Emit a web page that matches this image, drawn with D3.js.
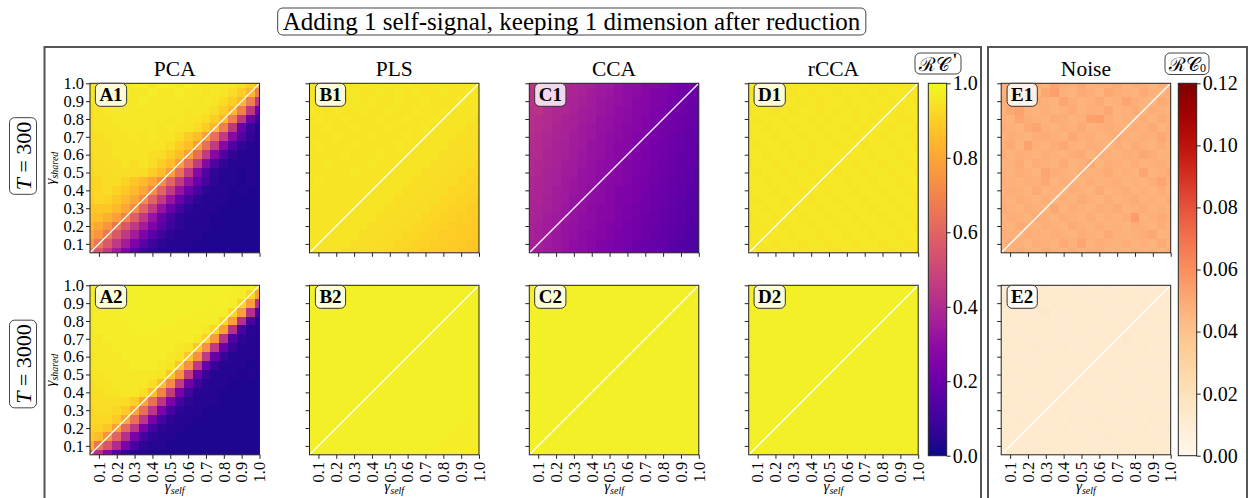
<!DOCTYPE html>
<html><head><meta charset="utf-8">
<script src="https://cdn.jsdelivr.net/npm/d3@7"></script>
<style>
body{margin:0;background:#fff}
svg{display:block}
text{font-family:"Liberation Serif","Times New Roman",serif;fill:#000}
</style>
</head><body><svg id="c" width="1253" height="498"></svg>
<script>
// ---------------- DATA ----------------
const gammaSelf = [0.05,0.10,0.15,0.20,0.25,0.30,0.35,0.40,0.45,0.50,0.55,0.60,0.65,0.70,0.75,0.80,0.85,0.90,0.95,1.00];
const gammaShared = [1.00,0.95,0.90,0.85,0.80,0.75,0.70,0.65,0.60,0.55,0.50,0.45,0.40,0.35,0.30,0.25,0.20,0.15,0.10,0.05]; // rows, top to bottom
const tickValues = [0.1,0.2,0.3,0.4,0.5,0.6,0.7,0.8,0.9,1.0];
const methods = ["PCA","PLS","CCA","rCCA","Noise"];
const rowT = ["300","3000"];
const panelIds = [["A1","B1","C1","D1","E1"],["A2","B2","C2","D2","E2"]];
const rcTicks = [0.0,0.2,0.4,0.6,0.8,1.0];
const noiseTicks = [0.00,0.02,0.04,0.06,0.08,0.10,0.12];
const titleText = "Adding 1 self-signal, keeping 1 dimension after reduction";

const A1 = [
[.95,.96,.96,.97,.96,.97,.97,.96,.97,.97,.96,.97,.96,.96,.96,.96,.95,.93,.90,.84],
[.95,.96,.96,.96,.97,.96,.96,.97,.96,.96,.97,.96,.96,.95,.96,.95,.93,.90,.84,.68],
[.95,.95,.96,.96,.96,.96,.97,.96,.96,.96,.96,.96,.95,.96,.95,.93,.90,.84,.68,.44],
[.94,.95,.96,.96,.96,.96,.96,.96,.96,.96,.96,.95,.96,.95,.93,.90,.84,.68,.44,.20],
[.94,.95,.95,.96,.96,.96,.96,.96,.96,.95,.96,.95,.95,.93,.90,.84,.68,.44,.20,.08],
[.94,.95,.95,.95,.96,.96,.96,.96,.95,.96,.95,.95,.93,.90,.84,.68,.44,.20,.08,.04],
[.93,.94,.95,.95,.95,.96,.95,.96,.95,.95,.93,.90,.86,.78,.64,.46,.28,.14,.07,.04],
[.93,.94,.94,.95,.95,.95,.95,.95,.95,.93,.90,.86,.78,.64,.46,.28,.14,.07,.04,.04],
[.92,.94,.94,.95,.95,.95,.95,.94,.93,.90,.86,.78,.64,.46,.28,.14,.07,.04,.04,.04],
[.92,.93,.94,.94,.95,.94,.95,.93,.90,.86,.78,.64,.46,.28,.14,.07,.04,.04,.04,.03],
[.92,.93,.93,.94,.94,.94,.93,.90,.86,.78,.64,.46,.28,.14,.07,.04,.04,.03,.04,.03],
[.91,.92,.93,.93,.91,.88,.85,.80,.72,.60,.46,.32,.20,.11,.06,.04,.04,.03,.04,.03],
[.91,.92,.93,.91,.88,.85,.80,.72,.60,.46,.32,.20,.11,.06,.04,.04,.03,.04,.03,.03],
[.90,.92,.91,.88,.85,.80,.72,.60,.46,.32,.20,.11,.06,.04,.04,.04,.03,.03,.03,.03],
[.88,.88,.88,.85,.80,.72,.60,.46,.32,.20,.11,.06,.04,.04,.04,.03,.03,.03,.03,.03],
[.87,.86,.83,.78,.70,.58,.45,.32,.20,.11,.06,.04,.04,.04,.03,.03,.03,.03,.03,.03],
[.84,.80,.75,.66,.56,.45,.35,.25,.16,.09,.06,.04,.04,.04,.03,.03,.03,.03,.03,.03],
[.80,.75,.66,.56,.45,.35,.25,.16,.09,.06,.04,.04,.04,.03,.03,.03,.03,.03,.03,.03],
[.75,.66,.56,.45,.35,.25,.16,.09,.06,.04,.04,.04,.03,.03,.03,.03,.03,.03,.03,.03],
[.66,.56,.45,.35,.25,.16,.09,.06,.04,.04,.04,.03,.03,.03,.03,.03,.03,.03,.03,.03]];

const A2 = [
[.97,.97,.98,.98,.98,.98,.98,.98,.98,.98,.98,.98,.98,.98,.98,.98,.98,.97,.97,.92],
[.97,.97,.97,.98,.98,.98,.98,.98,.98,.98,.98,.98,.98,.98,.98,.98,.97,.97,.92,.78],
[.97,.97,.97,.97,.98,.98,.98,.98,.98,.98,.98,.98,.98,.98,.97,.98,.97,.92,.78,.42],
[.96,.97,.97,.97,.98,.98,.98,.98,.98,.98,.98,.98,.97,.97,.97,.97,.92,.78,.42,.12],
[.96,.97,.97,.97,.97,.98,.98,.98,.98,.98,.97,.97,.97,.97,.97,.92,.78,.42,.12,.05],
[.96,.97,.97,.97,.97,.97,.98,.98,.97,.97,.97,.97,.97,.96,.92,.78,.42,.12,.05,.04],
[.96,.96,.97,.97,.97,.97,.97,.97,.97,.97,.97,.97,.96,.91,.77,.43,.14,.06,.04,.04],
[.96,.96,.96,.97,.97,.97,.97,.97,.97,.97,.96,.95,.88,.74,.45,.20,.08,.04,.04,.04],
[.95,.96,.96,.96,.97,.97,.97,.97,.97,.96,.95,.88,.74,.45,.20,.08,.04,.04,.04,.04],
[.95,.96,.96,.96,.96,.97,.97,.97,.96,.95,.88,.74,.45,.20,.08,.04,.04,.04,.03,.04],
[.95,.95,.96,.96,.96,.96,.96,.96,.95,.88,.74,.45,.20,.08,.04,.04,.04,.03,.04,.03],
[.94,.95,.95,.96,.96,.96,.96,.94,.87,.72,.46,.22,.09,.05,.04,.04,.03,.03,.03,.03],
[.94,.94,.95,.95,.96,.96,.94,.86,.70,.46,.24,.10,.05,.04,.04,.03,.03,.03,.03,.03],
[.93,.94,.94,.94,.93,.90,.80,.64,.44,.24,.11,.06,.04,.04,.04,.03,.03,.03,.03,.03],
[.92,.93,.93,.92,.89,.80,.64,.44,.24,.11,.06,.04,.04,.03,.03,.03,.03,.03,.03,.03],
[.92,.92,.92,.89,.80,.64,.44,.24,.11,.06,.04,.04,.03,.03,.03,.03,.03,.03,.03,.03],
[.91,.91,.88,.78,.62,.44,.24,.11,.06,.04,.04,.03,.03,.03,.03,.03,.03,.03,.03,.03],
[.89,.86,.74,.60,.42,.24,.11,.06,.04,.04,.03,.03,.03,.03,.03,.03,.03,.03,.03,.03],
[.82,.66,.55,.40,.24,.11,.06,.04,.04,.03,.03,.03,.03,.03,.03,.03,.03,.03,.03,.03],
[.60,.42,.28,.14,.07,.04,.04,.03,.03,.03,.03,.03,.03,.03,.03,.03,.03,.03,.03,.03]];

const B1 = [
[.95,.95,.96,.95,.96,.95,.96,.96,.95,.96,.95,.96,.95,.95,.96,.95,.95,.96,.95,.95],
[.95,.96,.95,.96,.95,.96,.95,.95,.96,.95,.96,.95,.96,.95,.95,.96,.95,.95,.96,.95],
[.95,.95,.96,.95,.95,.96,.95,.96,.95,.95,.96,.95,.95,.96,.95,.95,.95,.96,.95,.95],
[.96,.95,.95,.96,.95,.95,.96,.95,.95,.96,.95,.95,.96,.95,.95,.96,.95,.95,.95,.95],
[.95,.96,.95,.95,.96,.95,.95,.95,.96,.95,.95,.96,.95,.95,.96,.95,.95,.95,.95,.94],
[.95,.95,.96,.95,.95,.96,.95,.95,.95,.96,.95,.95,.95,.96,.95,.95,.95,.95,.94,.94],
[.95,.95,.95,.96,.95,.95,.95,.96,.95,.95,.95,.96,.95,.95,.95,.95,.95,.94,.94,.94],
[.95,.96,.95,.95,.95,.96,.95,.95,.95,.95,.96,.95,.95,.95,.95,.95,.94,.94,.94,.93],
[.95,.95,.95,.95,.96,.95,.95,.95,.96,.95,.95,.95,.95,.95,.95,.94,.94,.94,.93,.93],
[.95,.95,.96,.95,.95,.95,.95,.96,.95,.95,.95,.95,.95,.95,.94,.94,.94,.93,.93,.92],
[.95,.95,.95,.95,.95,.96,.95,.95,.95,.95,.95,.95,.95,.94,.94,.94,.93,.93,.92,.92],
[.95,.96,.95,.95,.95,.95,.95,.95,.95,.95,.95,.95,.94,.94,.94,.93,.93,.92,.92,.91],
[.95,.95,.95,.95,.95,.95,.95,.95,.95,.95,.95,.94,.94,.94,.93,.93,.92,.92,.91,.91],
[.95,.95,.95,.95,.95,.95,.95,.95,.95,.95,.94,.94,.94,.93,.93,.92,.92,.91,.91,.90],
[.95,.95,.95,.95,.95,.95,.95,.95,.95,.94,.94,.94,.93,.93,.92,.92,.91,.91,.90,.90],
[.95,.95,.95,.95,.95,.95,.95,.95,.94,.94,.94,.93,.93,.92,.92,.91,.91,.90,.90,.89],
[.95,.95,.95,.95,.95,.95,.95,.94,.94,.94,.93,.93,.92,.92,.91,.91,.90,.90,.89,.89],
[.95,.95,.95,.95,.95,.95,.94,.94,.94,.93,.93,.92,.92,.91,.91,.90,.90,.89,.89,.88],
[.95,.95,.95,.95,.95,.94,.94,.94,.93,.93,.92,.92,.91,.91,.90,.90,.89,.89,.88,.88],
[.95,.95,.95,.95,.94,.94,.94,.93,.93,.92,.92,.91,.91,.90,.90,.89,.89,.88,.88,.87]];

const C1 = [
[.44,.44,.42,.41,.40,.38,.37,.36,.34,.34,.32,.30,.30,.28,.27,.26,.24,.23,.22,.21],
[.43,.43,.42,.40,.39,.38,.37,.35,.34,.33,.31,.30,.29,.28,.26,.25,.24,.22,.21,.20],
[.43,.42,.41,.40,.38,.37,.36,.35,.33,.32,.31,.30,.28,.27,.26,.25,.23,.22,.21,.20],
[.42,.43,.40,.39,.39,.37,.35,.34,.33,.32,.30,.29,.28,.27,.25,.24,.23,.22,.20,.19],
[.42,.41,.40,.39,.37,.36,.35,.34,.32,.31,.30,.29,.27,.26,.25,.24,.22,.21,.20,.19],
[.42,.41,.40,.38,.37,.36,.34,.33,.32,.31,.29,.28,.27,.26,.24,.23,.22,.21,.19,.18],
[.41,.40,.39,.38,.37,.35,.34,.33,.31,.30,.29,.28,.26,.25,.24,.23,.21,.20,.19,.18],
[.41,.40,.39,.37,.36,.35,.34,.32,.31,.30,.28,.27,.26,.25,.23,.22,.21,.20,.18,.17],
[.40,.40,.38,.37,.36,.35,.33,.32,.31,.29,.28,.27,.26,.24,.23,.22,.21,.19,.18,.17],
[.40,.39,.38,.37,.35,.34,.33,.31,.30,.29,.28,.26,.25,.24,.23,.21,.20,.19,.18,.17],
[.40,.39,.37,.36,.35,.34,.32,.31,.30,.29,.27,.26,.25,.24,.22,.21,.20,.19,.17,.16],
[.39,.38,.37,.36,.34,.33,.32,.31,.29,.28,.27,.26,.24,.23,.22,.21,.19,.18,.17,.16],
[.39,.38,.37,.35,.34,.33,.32,.30,.29,.28,.26,.25,.24,.23,.21,.20,.19,.18,.16,.16],
[.38,.38,.36,.35,.34,.32,.31,.30,.29,.27,.26,.25,.24,.22,.21,.20,.19,.17,.16,.15],
[.38,.37,.36,.35,.33,.32,.31,.29,.28,.27,.26,.24,.23,.22,.21,.19,.18,.17,.16,.15],
[.38,.37,.35,.34,.33,.32,.30,.29,.28,.27,.25,.24,.23,.21,.20,.19,.18,.17,.15,.15],
[.37,.36,.35,.34,.32,.31,.30,.29,.27,.26,.25,.23,.22,.21,.20,.18,.17,.16,.15,.14],
[.37,.36,.35,.33,.32,.31,.29,.28,.27,.26,.24,.23,.22,.21,.19,.18,.17,.16,.14,.14],
[.36,.36,.34,.33,.32,.30,.29,.28,.26,.25,.24,.23,.21,.20,.19,.18,.16,.15,.14,.14],
[.36,.35,.34,.33,.31,.30,.29,.27,.26,.25,.24,.22,.21,.20,.19,.17,.16,.15,.14,.13]];

const D1 = [
[.96,.95,.96,.96,.95,.96,.95,.96,.96,.95,.96,.96,.95,.96,.95,.96,.96,.95,.96,.95],
[.95,.96,.95,.96,.96,.95,.96,.95,.96,.96,.95,.96,.96,.95,.96,.95,.96,.96,.95,.96],
[.96,.96,.95,.95,.96,.96,.95,.96,.95,.96,.96,.95,.96,.96,.95,.96,.95,.96,.96,.95],
[.95,.96,.96,.95,.96,.95,.96,.96,.95,.96,.95,.96,.95,.96,.96,.95,.96,.95,.96,.96],
[.96,.95,.96,.96,.95,.96,.96,.95,.96,.95,.96,.96,.95,.96,.95,.96,.96,.95,.95,.96],
[.96,.96,.95,.96,.96,.95,.96,.96,.95,.96,.96,.95,.96,.95,.96,.96,.95,.96,.96,.95],
[.95,.96,.96,.95,.96,.96,.95,.96,.96,.95,.96,.96,.95,.96,.96,.95,.96,.96,.95,.96],
[.96,.95,.96,.96,.95,.96,.96,.95,.96,.96,.95,.96,.96,.95,.96,.96,.95,.96,.96,.95],
[.96,.96,.95,.96,.96,.95,.96,.95,.96,.96,.96,.95,.96,.96,.95,.96,.96,.95,.96,.96],
[.95,.96,.96,.95,.96,.96,.95,.96,.96,.95,.96,.96,.95,.96,.96,.95,.96,.96,.95,.96],
[.96,.95,.96,.96,.95,.96,.96,.95,.96,.96,.95,.96,.96,.95,.96,.96,.95,.96,.96,.95],
[.96,.96,.95,.96,.96,.95,.96,.96,.95,.96,.96,.95,.96,.96,.95,.96,.96,.95,.96,.96],
[.95,.96,.96,.95,.96,.96,.95,.96,.96,.95,.96,.96,.95,.96,.96,.95,.96,.96,.95,.96],
[.96,.95,.96,.96,.95,.96,.96,.95,.96,.96,.95,.96,.96,.95,.96,.96,.95,.96,.96,.95],
[.96,.96,.95,.96,.96,.95,.96,.96,.95,.96,.96,.95,.96,.96,.95,.96,.96,.95,.96,.96],
[.95,.96,.96,.95,.96,.96,.95,.96,.96,.95,.96,.96,.95,.96,.96,.95,.96,.96,.95,.96],
[.96,.95,.96,.96,.95,.96,.96,.95,.96,.96,.95,.96,.96,.95,.96,.96,.95,.96,.96,.95],
[.95,.96,.95,.96,.96,.95,.96,.96,.95,.96,.96,.95,.96,.96,.95,.96,.96,.95,.96,.96],
[.96,.95,.96,.95,.96,.96,.95,.96,.96,.95,.96,.96,.95,.96,.96,.95,.96,.96,.95,.96],
[.95,.96,.95,.96,.95,.96,.96,.95,.96,.96,.95,.96,.96,.95,.96,.96,.95,.96,.96,.95]];

const B2 = [
[.98,.98,.98,.98,.98,.98,.98,.98,.98,.98,.98,.98,.98,.98,.98,.98,.98,.98,.98,.98],
[.98,.98,.98,.98,.98,.98,.98,.98,.98,.98,.98,.98,.98,.98,.98,.98,.98,.98,.98,.98],
[.98,.98,.98,.98,.98,.98,.98,.98,.98,.98,.98,.98,.98,.98,.98,.98,.98,.98,.98,.98],
[.98,.98,.98,.98,.98,.98,.98,.98,.98,.98,.98,.98,.98,.98,.98,.98,.98,.98,.98,.98],
[.98,.98,.98,.98,.98,.98,.98,.98,.98,.98,.98,.98,.98,.98,.98,.98,.98,.98,.98,.98],
[.98,.98,.98,.98,.98,.98,.98,.98,.98,.98,.98,.98,.98,.98,.98,.98,.98,.98,.98,.98],
[.98,.98,.98,.98,.98,.98,.98,.98,.98,.98,.98,.98,.98,.98,.98,.98,.98,.98,.98,.98],
[.98,.98,.98,.98,.98,.98,.98,.98,.98,.98,.98,.98,.98,.98,.98,.98,.98,.98,.98,.98],
[.98,.98,.98,.98,.98,.98,.98,.98,.98,.98,.98,.98,.98,.98,.98,.98,.98,.98,.98,.98],
[.98,.98,.98,.98,.98,.98,.98,.98,.98,.98,.98,.98,.98,.98,.98,.98,.98,.98,.98,.98],
[.98,.98,.98,.98,.98,.98,.98,.98,.98,.98,.98,.98,.98,.98,.98,.98,.98,.98,.98,.98],
[.98,.98,.98,.98,.98,.98,.98,.98,.98,.98,.98,.98,.98,.98,.98,.98,.98,.98,.98,.98],
[.98,.98,.98,.98,.98,.98,.98,.98,.98,.98,.98,.98,.98,.98,.98,.98,.98,.98,.98,.98],
[.98,.98,.98,.98,.98,.98,.98,.98,.98,.98,.98,.98,.98,.98,.98,.98,.98,.98,.98,.98],
[.98,.98,.98,.98,.98,.98,.98,.98,.98,.98,.98,.98,.98,.98,.98,.98,.98,.98,.98,.97],
[.98,.98,.98,.98,.98,.98,.98,.98,.98,.98,.98,.98,.98,.98,.98,.98,.98,.98,.97,.97],
[.98,.98,.98,.98,.98,.98,.98,.98,.98,.98,.98,.98,.98,.98,.98,.98,.98,.97,.97,.97],
[.98,.98,.98,.98,.98,.98,.98,.98,.98,.98,.98,.98,.98,.98,.98,.98,.97,.97,.97,.97],
[.98,.98,.98,.98,.98,.98,.98,.98,.98,.98,.98,.98,.98,.98,.98,.97,.97,.97,.97,.97],
[.98,.98,.98,.98,.98,.98,.98,.98,.98,.98,.98,.98,.98,.98,.97,.97,.97,.97,.97,.97]];

const C2 = [
[.98,.98,.98,.98,.98,.98,.98,.98,.98,.98,.98,.98,.98,.98,.98,.98,.98,.98,.98,.98],
[.98,.98,.98,.98,.98,.98,.98,.98,.98,.98,.98,.98,.98,.98,.98,.98,.98,.98,.98,.98],
[.98,.98,.98,.98,.98,.98,.98,.98,.98,.98,.98,.98,.98,.98,.98,.98,.98,.98,.98,.98],
[.98,.98,.98,.98,.98,.98,.98,.98,.98,.98,.98,.98,.98,.98,.98,.98,.98,.98,.98,.98],
[.98,.98,.98,.98,.98,.98,.98,.98,.98,.98,.98,.98,.98,.98,.98,.98,.98,.98,.98,.98],
[.98,.98,.98,.98,.98,.98,.98,.98,.98,.98,.98,.98,.98,.98,.98,.98,.98,.98,.98,.98],
[.98,.98,.98,.98,.98,.98,.98,.98,.98,.98,.98,.98,.98,.98,.98,.98,.98,.98,.98,.98],
[.98,.98,.98,.98,.98,.98,.98,.98,.98,.98,.98,.98,.98,.98,.98,.98,.98,.98,.98,.98],
[.98,.98,.98,.98,.98,.98,.98,.98,.98,.98,.98,.98,.98,.98,.98,.98,.98,.98,.98,.98],
[.98,.98,.98,.98,.98,.98,.98,.98,.98,.98,.98,.98,.98,.98,.98,.98,.98,.98,.98,.98],
[.98,.98,.98,.98,.98,.98,.98,.98,.98,.98,.98,.98,.98,.98,.98,.98,.98,.98,.98,.98],
[.98,.98,.98,.98,.98,.98,.98,.98,.98,.98,.98,.98,.98,.98,.98,.98,.98,.98,.98,.98],
[.98,.98,.98,.98,.98,.98,.98,.98,.98,.98,.98,.98,.98,.98,.98,.98,.98,.98,.98,.98],
[.98,.98,.98,.98,.98,.98,.98,.98,.98,.98,.98,.98,.98,.98,.98,.98,.98,.98,.98,.98],
[.98,.98,.98,.98,.98,.98,.98,.98,.98,.98,.98,.98,.98,.98,.98,.98,.98,.98,.98,.98],
[.98,.98,.98,.98,.98,.98,.98,.98,.98,.98,.98,.98,.98,.98,.98,.98,.98,.98,.98,.98],
[.98,.98,.98,.98,.98,.98,.98,.98,.98,.98,.98,.98,.98,.98,.98,.98,.98,.98,.98,.98],
[.98,.98,.98,.98,.98,.98,.98,.98,.98,.98,.98,.98,.98,.98,.98,.98,.98,.98,.98,.98],
[.98,.98,.98,.98,.98,.98,.98,.98,.98,.98,.98,.98,.98,.98,.98,.98,.98,.98,.98,.98],
[.98,.98,.98,.98,.98,.98,.98,.98,.98,.98,.98,.98,.98,.98,.98,.98,.98,.98,.98,.98]];

const D2 = [
[.98,.98,.98,.98,.98,.98,.98,.98,.98,.98,.98,.98,.98,.98,.98,.98,.98,.98,.98,.98],
[.98,.98,.98,.98,.98,.98,.98,.98,.98,.98,.98,.98,.98,.98,.98,.98,.98,.98,.98,.98],
[.98,.98,.98,.98,.98,.98,.98,.98,.98,.98,.98,.98,.98,.98,.98,.98,.98,.98,.98,.98],
[.98,.98,.98,.98,.98,.98,.98,.98,.98,.98,.98,.98,.98,.98,.98,.98,.98,.98,.98,.98],
[.98,.98,.98,.98,.98,.98,.98,.98,.98,.98,.98,.98,.98,.98,.98,.98,.98,.98,.98,.98],
[.98,.98,.98,.98,.98,.98,.98,.98,.98,.98,.98,.98,.98,.98,.98,.98,.98,.98,.98,.98],
[.98,.98,.98,.98,.98,.98,.98,.98,.98,.98,.98,.98,.98,.98,.98,.98,.98,.98,.98,.98],
[.98,.98,.98,.98,.98,.98,.98,.98,.98,.98,.98,.98,.98,.98,.98,.98,.98,.98,.98,.98],
[.98,.98,.98,.98,.98,.98,.98,.98,.98,.98,.98,.98,.98,.98,.98,.98,.98,.98,.98,.98],
[.98,.98,.98,.98,.98,.98,.98,.98,.98,.98,.98,.98,.98,.98,.98,.98,.98,.98,.98,.98],
[.98,.98,.98,.98,.98,.98,.98,.98,.98,.98,.98,.98,.98,.98,.98,.98,.98,.98,.98,.98],
[.98,.98,.98,.98,.98,.98,.98,.98,.98,.98,.98,.98,.98,.98,.98,.98,.98,.98,.98,.98],
[.98,.98,.98,.98,.98,.98,.98,.98,.98,.98,.98,.98,.98,.98,.98,.98,.98,.98,.98,.98],
[.98,.98,.98,.98,.98,.98,.98,.98,.98,.98,.98,.98,.98,.98,.98,.98,.98,.98,.98,.98],
[.98,.98,.98,.98,.98,.98,.98,.98,.98,.98,.98,.98,.98,.98,.98,.98,.98,.98,.98,.98],
[.98,.98,.98,.98,.98,.98,.98,.98,.98,.98,.98,.98,.98,.98,.98,.98,.98,.98,.98,.98],
[.98,.98,.98,.98,.98,.98,.98,.98,.98,.98,.98,.98,.98,.98,.98,.98,.98,.98,.98,.98],
[.98,.98,.98,.98,.98,.98,.98,.98,.98,.98,.98,.98,.98,.98,.98,.98,.98,.98,.98,.98],
[.98,.98,.98,.98,.98,.98,.98,.98,.98,.98,.98,.98,.98,.98,.98,.98,.98,.98,.98,.98],
[.98,.98,.98,.98,.98,.98,.98,.98,.98,.98,.98,.98,.98,.98,.98,.98,.98,.98,.98,.98]];

const E1 = [
[.048,.046,.049,.047,.050,.047,.052,.049,.048,.051,.047,.049,.048,.050,.047,.049,.048,.046,.049,.047],
[.047,.049,.046,.048,.047,.051,.054,.048,.047,.050,.049,.047,.051,.049,.048,.047,.050,.048,.047,.049],
[.049,.047,.048,.046,.050,.048,.047,.052,.049,.047,.048,.050,.047,.048,.052,.049,.047,.046,.050,.048],
[.047,.051,.053,.048,.047,.049,.047,.048,.050,.047,.049,.048,.051,.047,.048,.050,.047,.049,.048,.047],
[.048,.047,.052,.049,.048,.047,.050,.049,.047,.048,.053,.054,.049,.047,.048,.047,.049,.047,.050,.048],
[.049,.048,.047,.050,.052,.048,.047,.049,.048,.050,.047,.048,.049,.048,.047,.049,.048,.050,.047,.049],
[.047,.049,.048,.047,.049,.050,.048,.047,.051,.048,.049,.047,.048,.050,.048,.047,.049,.048,.051,.048],
[.048,.050,.047,.053,.048,.047,.049,.051,.048,.047,.049,.048,.047,.049,.047,.050,.048,.047,.049,.047],
[.049,.047,.049,.048,.047,.049,.048,.047,.049,.050,.047,.049,.048,.047,.049,.048,.051,.049,.047,.048],
[.047,.048,.050,.047,.049,.048,.047,.050,.047,.048,.051,.047,.049,.048,.047,.049,.047,.048,.049,.047],
[.048,.047,.049,.048,.047,.052,.049,.048,.047,.049,.047,.048,.050,.047,.048,.047,.052,.047,.048,.050],
[.049,.048,.047,.049,.048,.051,.047,.049,.048,.047,.049,.047,.048,.049,.047,.048,.047,.049,.052,.048],
[.047,.049,.048,.047,.050,.047,.048,.047,.049,.048,.047,.050,.047,.048,.049,.047,.048,.047,.049,.047],
[.048,.047,.049,.048,.047,.049,.047,.048,.047,.050,.048,.047,.049,.047,.048,.050,.047,.048,.047,.049],
[.049,.048,.047,.049,.048,.047,.051,.047,.049,.048,.047,.049,.048,.050,.047,.048,.049,.047,.048,.047],
[.047,.049,.048,.047,.050,.048,.047,.049,.048,.047,.049,.047,.048,.047,.049,.055,.047,.048,.050,.048],
[.048,.047,.050,.048,.047,.049,.048,.047,.050,.048,.047,.049,.047,.048,.047,.049,.048,.047,.049,.047],
[.049,.048,.047,.049,.048,.047,.049,.048,.047,.049,.048,.047,.050,.048,.047,.048,.049,.051,.047,.048],
[.047,.049,.048,.047,.049,.048,.047,.050,.048,.052,.047,.049,.048,.047,.049,.047,.048,.047,.050,.047],
[.048,.047,.049,.048,.047,.050,.048,.047,.049,.047,.048,.049,.047,.048,.047,.049,.047,.048,.047,.049]];

const E2 = [
[.012,.012,.013,.012,.012,.013,.012,.012,.012,.013,.012,.012,.013,.012,.012,.012,.013,.012,.012,.012],
[.012,.013,.012,.012,.014,.012,.012,.013,.012,.012,.012,.013,.012,.012,.013,.012,.012,.012,.013,.012],
[.013,.012,.012,.013,.012,.012,.013,.012,.012,.013,.012,.012,.012,.013,.012,.012,.013,.012,.012,.012],
[.012,.012,.013,.012,.012,.015,.012,.012,.013,.012,.012,.013,.012,.012,.012,.013,.012,.012,.013,.012],
[.012,.013,.012,.012,.013,.012,.012,.012,.012,.012,.013,.012,.012,.013,.012,.012,.012,.013,.012,.012],
[.013,.012,.012,.013,.012,.012,.013,.012,.012,.013,.012,.012,.013,.012,.012,.013,.012,.012,.012,.013],
[.012,.012,.013,.012,.012,.013,.012,.012,.012,.012,.012,.013,.012,.012,.014,.012,.012,.013,.012,.012],
[.012,.013,.012,.012,.013,.012,.012,.013,.012,.012,.013,.012,.012,.013,.012,.012,.013,.012,.012,.012],
[.013,.012,.012,.012,.012,.012,.013,.012,.012,.013,.012,.012,.013,.012,.012,.013,.012,.012,.013,.012],
[.012,.012,.013,.012,.012,.013,.012,.012,.013,.012,.012,.012,.012,.012,.013,.012,.012,.012,.012,.013],
[.012,.013,.012,.012,.013,.012,.012,.012,.012,.012,.013,.012,.013,.012,.012,.012,.013,.012,.012,.012],
[.013,.012,.012,.013,.012,.012,.013,.012,.012,.013,.012,.012,.012,.013,.012,.012,.012,.013,.012,.012],
[.012,.012,.013,.012,.012,.013,.012,.012,.013,.012,.012,.013,.012,.012,.013,.012,.012,.012,.013,.012],
[.012,.013,.012,.012,.013,.012,.012,.013,.012,.012,.013,.012,.012,.013,.012,.012,.013,.012,.012,.012],
[.013,.012,.012,.013,.012,.012,.013,.012,.012,.012,.012,.012,.013,.012,.012,.013,.012,.012,.013,.012],
[.012,.012,.013,.012,.012,.013,.012,.012,.013,.012,.012,.013,.012,.012,.012,.012,.012,.013,.012,.012],
[.012,.013,.012,.012,.012,.012,.012,.013,.012,.012,.013,.012,.012,.013,.012,.012,.013,.012,.012,.013],
[.013,.012,.012,.013,.012,.012,.013,.012,.012,.013,.012,.012,.013,.012,.012,.013,.012,.012,.012,.012],
[.012,.012,.013,.012,.012,.013,.012,.012,.013,.012,.012,.012,.012,.012,.013,.012,.012,.013,.012,.012],
[.012,.013,.012,.012,.014,.012,.012,.013,.012,.012,.013,.012,.012,.013,.012,.012,.012,.012,.013,.012]];

const grids = [[A1,B1,C1,D1,E1],[A2,B2,C2,D2,E2]];

// ---------------- LAYOUT ----------------
const svg = d3.select("#c");
const S = 169.5;
const colX = [90, 309.5, 529.3, 748.7, 1001.2];
const rowY = [83.3, 285.3];
const FONT = '"Liberation Serif","Times New Roman",serif';

const x = d3.scaleLinear().domain([0.05,1.0]).range([0,S]);
const y = d3.scaleLinear().domain([0.05,1.0]).range([S,0]);
const step = 0.05;
const rcColor = d3.scaleSequential(d3.interpolatePlasma).domain([0,1]);
const noiseColor = d3.scaleSequential(d3.interpolateOrRd).domain([0,0.12]);

// outer boxes
svg.append("rect").attr("x",44.5).attr("y",47).attr("width",936.5).attr("height",470)
  .attr("fill","none").attr("stroke","#555").attr("stroke-width",2);
svg.append("rect").attr("x",988).attr("y",47).attr("width",259).attr("height",470)
  .attr("fill","none").attr("stroke","#555").attr("stroke-width",2);

function boxed(g, content, fontSize, opts){
  const t = g.append("text").attr("font-size",fontSize).attr("text-anchor","middle")
    .attr("dominant-baseline","central").attr("font-weight",opts.bold?"bold":"normal");
  content(t);
  const bb = t.node().getBBox();
  const px = opts.padX ?? 5, py = opts.padY ?? 2;
  const extraR = opts.extraR ?? 0;
  g.insert("rect","text").attr("x",bb.x-px).attr("y",bb.y-py)
    .attr("width",bb.width+2*px+extraR).attr("height",bb.height+2*py)
    .attr("rx",opts.rx ?? 5).attr("fill",opts.fill ?? "#fff").attr("fill-opacity",opts.fo ?? 1)
    .attr("stroke",opts.stroke ?? "#444").attr("stroke-width",1);
  return {t, bb};
}

// title
{
  const g = svg.append("g").attr("transform","translate(571.5,21.5)");
  boxed(g, t=>t.text(titleText), 25, {padX:5,padY:0});
}

// panels
grids.forEach((row, r) => {
  row.forEach((grid, c) => {
    const g = svg.append("g").attr("transform",`translate(${colX[c]},${rowY[r]})`);
    const cid = `clip${r}${c}`;
    g.append("clipPath").attr("id",cid).append("rect").attr("width",S).attr("height",S);
    const color = c===4 ? noiseColor : rcColor;
    const cells = [];
    grid.forEach((vals,i)=>vals.forEach((v,k)=>cells.push({gs:gammaShared[i], gl:gammaSelf[k], v})));
    g.append("g").attr("clip-path",`url(#${cid})`).selectAll("rect").data(cells).join("rect")
      .attr("x",d=>x(d.gl-step/2)).attr("y",d=>y(d.gs+step/2))
      .attr("width",x(step)-x(0)+0.5).attr("height",y(0)-y(step)+0.5)
      .attr("shape-rendering","crispEdges")
      .attr("fill",d=>color(d.v));
    // diagonal
    g.append("line").attr("x1",x(0.05)).attr("y1",y(0.05)).attr("x2",x(1)).attr("y2",y(1))
      .attr("stroke","#fff").attr("stroke-width",1.3);
    g.append("rect").attr("width",S).attr("height",S).attr("fill","none").attr("stroke","#222").attr("stroke-width",1);
    // axes
    const ya = d3.axisLeft(y).tickValues(tickValues).tickSize(4).tickPadding(2)
      .tickFormat(c===0 ? d3.format(".1f") : ()=>"");
    const yg = g.append("g").call(ya);
    const xa = d3.axisBottom(x).tickValues(tickValues).tickSize(4).tickPadding(2)
      .tickFormat(r===1 ? d3.format(".1f") : ()=>"");
    const xg = g.append("g").attr("transform",`translate(0,${S})`).call(xa);
    [yg,xg].forEach(a=>{
      a.select(".domain").remove();
      a.selectAll(".tick line").attr("stroke","#222");
      a.selectAll("text").attr("font-family",FONT).attr("font-size",16.5).attr("fill","#000");
    });
    if (r===1){
      xg.selectAll(".tick text").attr("transform","rotate(-90)").attr("text-anchor","end")
        .attr("dy","0.32em").attr("x",-7).attr("y",0);
    }
    // panel label
    const lg = g.append("g").attr("transform","translate(21,11.5)");
    boxed(lg, t=>t.text(panelIds[r][c]), 19, {bold:true, padX:4, padY:1, fill:"#fff", fo:0.82, stroke:"#333"});
    if (r===0){
      g.append("text").attr("x",S/2).attr("y",-7).attr("text-anchor","middle").attr("font-size",21.5).text(methods[c]);
    }
    if (r===1){
      const t = g.append("text").attr("x",S/2).attr("y",S+36).attr("text-anchor","middle").attr("font-size",15).attr("font-style","italic").attr("fill","#333");
      t.append("tspan").text("γ");
      t.append("tspan").attr("font-size",10).attr("dy",3).text("self");
    }
    if (c===0){
      const t = g.append("text").attr("transform",`translate(-35,${S/2}) rotate(-90)`).attr("text-anchor","middle")
        .attr("font-size",15).attr("font-style","italic").attr("fill","#333");
      t.append("tspan").text("γ");
      t.append("tspan").attr("font-size",10).attr("dy",3).text("shared");
    }
  });
});

// row labels
[[23,156],[23,364]].forEach((p,i)=>{
  const g = svg.append("g").attr("transform",`translate(${p[0]},${p[1]}) rotate(-90)`);
  boxed(g, t=>{ t.append("tspan").attr("font-style","italic").text("T"); t.append("tspan").text(" = "+rowT[i]); }, 22, {padX:4,padY:1});
});

// colorbars
const cbTop = 83.3, cbH = 372.4, cbW = 18.4;
function colorbar(x0, interp, domain, ticks, fmt, id){
  const grad = svg.append("defs").append("linearGradient").attr("id",id)
    .attr("x1",0).attr("y1",1).attr("x2",0).attr("y2",0);
  d3.range(0,1.0001,0.05).forEach(t=>grad.append("stop").attr("offset",t).attr("stop-color",interp(t)));
  const g = svg.append("g").attr("transform",`translate(${x0},${cbTop})`);
  g.append("rect").attr("width",cbW).attr("height",cbH).attr("fill",`url(#${id})`).attr("stroke","#222").attr("stroke-width",1);
  const s = d3.scaleLinear().domain(domain).range([cbH,0]);
  const ag = g.append("g").attr("transform",`translate(${cbW},0)`).call(d3.axisRight(s).tickValues(ticks).tickFormat(d3.format(fmt)).tickSize(4).tickPadding(2));
  ag.select(".domain").remove();
  ag.selectAll(".tick line").attr("stroke","#222");
  ag.selectAll("text").attr("font-family",FONT).attr("font-size",20).attr("fill","#000");
  return g;
}
colorbar(928.3, d3.interpolatePlasma, [0,1], rcTicks, ".1f", "gradRC");
colorbar(1178.3, d3.interpolateOrRd, [0,0.12], noiseTicks, ".2f", "gradN");

// colorbar labels
{
  const g = svg.append("g").attr("transform","translate(934.5,63.5)");
  const res = boxed(g, t=>{ t.append("tspan").text("ℛ𝒞"); }, 19, {padX:3,padY:0, extraR:6});
  g.append("text").attr("x",res.bb.x+res.bb.width+0.5).attr("y",res.bb.y+12).attr("font-size",17)
    .attr("font-family","DejaVu Sans").attr("font-weight","bold").text("'");
  const g2 = svg.append("g").attr("transform","translate(1187.5,63.5)");
  boxed(g2, t=>{ t.append("tspan").text("ℛ𝒞"); t.append("tspan").attr("font-size",12).attr("dy",4).text("0"); }, 19, {padX:3,padY:0});
}
</script>
</body></html>
